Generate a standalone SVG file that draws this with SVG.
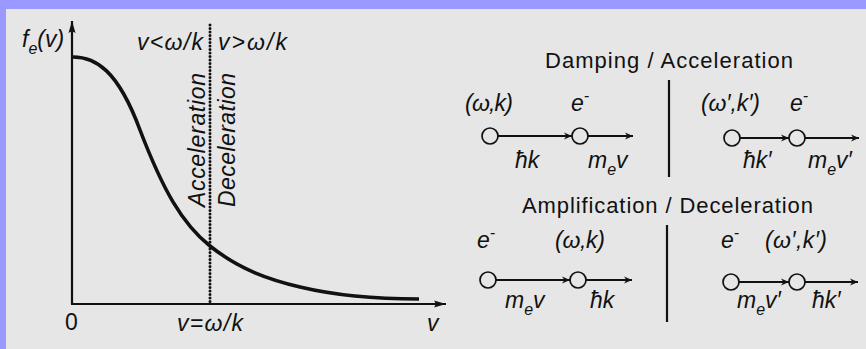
<svg xmlns="http://www.w3.org/2000/svg" width="866" height="349" viewBox="0 0 866 349">
<style>
text{font-family:"Liberation Sans",Arial,Helvetica,sans-serif;font-size:23px;fill:#111}
.i{font-style:italic}
.sub{font-size:16px}
.ttl{font-size:22px}
.ax{stroke:#111;stroke-width:2.2;fill:none}
.node{fill:#e6e6e6;stroke:#111;stroke-width:1.7}
.conn{stroke:#111;stroke-width:2;fill:none}
.div{stroke:#111;stroke-width:2.2}
</style>
<defs>
<marker id="ah" viewBox="0 0 10 10" refX="10" refY="5" markerWidth="11" markerHeight="8" markerUnits="userSpaceOnUse" orient="auto">
<path d="M0,0.5 L10,5 L0,9.5 L3,5 z" fill="#111"/>
</marker>
<marker id="axh" viewBox="0 0 12 8" refX="12" refY="4" markerWidth="14" markerHeight="8" markerUnits="userSpaceOnUse" orient="auto">
<path d="M0,0.5 L12,4 L0,7.5 L2,4 z" fill="#111"/>
</marker>
</defs>
<rect x="0" y="0" width="866" height="349" fill="#9999ff"/>
<rect x="6" y="9" width="860" height="340" fill="#e6e6e6"/>

<g id="plot">
<line class="ax" x1="72" y1="304" x2="72" y2="21" marker-end="url(#axh)"/>
<line class="ax" x1="71" y1="304" x2="446" y2="304" marker-end="url(#axh)"/>
<line x1="210" y1="25" x2="210" y2="303" stroke="#111" stroke-width="3" stroke-linecap="round" stroke-dasharray="0.1 3.4"/>
<path d="M73,57 C95.3,57 117.7,69.7 140,130 C163,190 182,223.6 210,246 C240,270 270,279.8 300,287 C339.7,296.5 379.3,299 419,299" fill="none" stroke="#111" stroke-width="3.6"/>
<text class="i" x="22" y="47">f<tspan class="sub" dy="7">e</tspan><tspan dy="-7">(v)</tspan></text>
<text class="i" x="137" y="50" textLength="66" lengthAdjust="spacing">v&lt;ω/k</text>
<text class="i" x="218" y="50" textLength="69" lengthAdjust="spacing">v&gt;ω/k</text>
<text class="i" transform="translate(205,207) rotate(-90)" textLength="134" lengthAdjust="spacing">Acceleration</text>
<text class="i" transform="translate(235,207) rotate(-90)" textLength="134" lengthAdjust="spacing">Deceleration</text>
<text x="65" y="330" font-size="21">0</text>
<text class="i" x="177" y="331" textLength="66" lengthAdjust="spacing">v=ω/k</text>
<text class="i" x="427" y="331">v</text>
</g>

<g id="titles">
<text class="ttl" x="545" y="68" textLength="248" lengthAdjust="spacing">Damping / Acceleration</text>
<text class="ttl" x="522" y="213" textLength="291" lengthAdjust="spacing">Amplification / Deceleration</text>
<line class="div" x1="669" y1="80" x2="669" y2="177"/>
<line class="div" x1="667" y1="225" x2="667" y2="322"/>
</g>

<g id="connectors">
<line class="conn" x1="498" y1="136" x2="572" y2="136" marker-end="url(#ah)"/>
<line class="conn" x1="588" y1="136" x2="633" y2="136" marker-end="url(#ah)"/>
<line class="conn" x1="740" y1="138" x2="789" y2="138" marker-end="url(#ah)"/>
<line class="conn" x1="805" y1="138" x2="859" y2="138" marker-end="url(#ah)"/>
<line class="conn" x1="496" y1="280" x2="570" y2="280" marker-end="url(#ah)"/>
<line class="conn" x1="586" y1="280" x2="632" y2="280" marker-end="url(#ah)"/>
<line class="conn" x1="739" y1="282" x2="789" y2="282" marker-end="url(#ah)"/>
<line class="conn" x1="805" y1="282" x2="858" y2="282" marker-end="url(#ah)"/>
</g>

<g id="wave1">
<circle class="node" cx="490" cy="136" r="8"/>
<text class="i" x="465" y="111" textLength="48" lengthAdjust="spacing">(ω,k)</text>
<text class="i" x="515" y="168">ħk</text>
</g>
<g id="electron1">
<circle class="node" cx="580" cy="136" r="8"/>
<text class="i" x="571" y="111">e<tspan class="sub" dy="-10">-</tspan></text>
<text class="i" x="588" y="168">m<tspan class="sub" dy="7">e</tspan><tspan dy="-7">v</tspan></text>
</g>
<g id="wave2">
<circle class="node" cx="732" cy="138" r="8"/>
<text class="i" x="701" y="111" textLength="59" lengthAdjust="spacing">(ω′,k′)</text>
<text class="i" x="743" y="168">ħk′</text>
</g>
<g id="electron2">
<circle class="node" cx="797" cy="138" r="8"/>
<text class="i" x="790" y="111">e<tspan class="sub" dy="-10">-</tspan></text>
<text class="i" x="808" y="168">m<tspan class="sub" dy="7">e</tspan><tspan dy="-7">v′</tspan></text>
</g>
<g id="electron3">
<circle class="node" cx="488" cy="280" r="8"/>
<text class="i" x="477" y="248">e<tspan class="sub" dy="-10">-</tspan></text>
<text class="i" x="505" y="308">m<tspan class="sub" dy="7">e</tspan><tspan dy="-7">v</tspan></text>
</g>
<g id="wave3">
<circle class="node" cx="578" cy="280" r="8"/>
<text class="i" x="555" y="248" textLength="50" lengthAdjust="spacing">(ω,k)</text>
<text class="i" x="590" y="308">ħk</text>
</g>
<g id="electron4">
<circle class="node" cx="731" cy="282" r="8"/>
<text class="i" x="721" y="248">e<tspan class="sub" dy="-10">-</tspan></text>
<text class="i" x="737" y="308">m<tspan class="sub" dy="7">e</tspan><tspan dy="-7">v′</tspan></text>
</g>
<g id="wave4">
<circle class="node" cx="797" cy="282" r="8"/>
<text class="i" x="765" y="248" textLength="62" lengthAdjust="spacing">(ω′,k′)</text>
<text class="i" x="812" y="308">ħk′</text>
</g>
</svg>
